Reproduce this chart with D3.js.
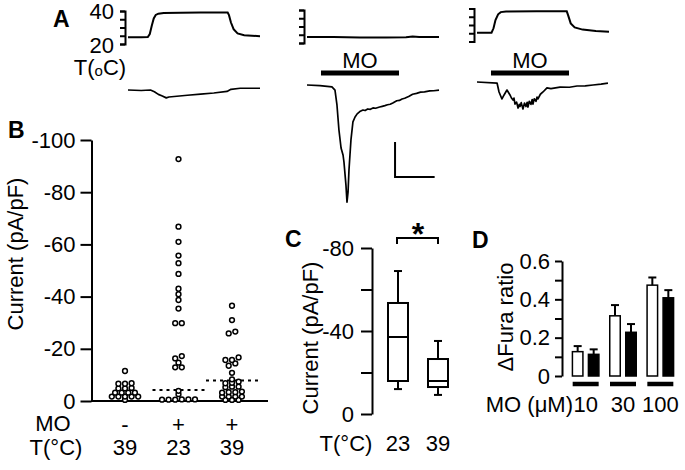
<!DOCTYPE html>
<html><head><meta charset="utf-8">
<script src="https://cdn.jsdelivr.net/npm/d3@7"></script>
<style>
body{margin:0;background:#fff}
text{font-family:"Liberation Sans",Arial,Helvetica,sans-serif;fill:#000}
</style>
</head><body>
<svg id="c" width="685" height="470"></svg>
<script>
// ================= DATA =================
// Panel A: temperature traces (time s, °C)
const tempTicks = [20, 25, 30, 35, 40];
const temp1 = [[0,24.1],[10,24.1],[15,24.2],[16.5,26],[18,31],[19.5,35.5],[21,37.6],[23,38.4],[27,38.8],[40,38.9],[55,39.1],[70,39.1],[75.5,39.1],[76.5,37.5],[78,33],[80,29],[83,26.4],[88,25.3],[100,24.7]];
const temp2 = [[0,23.7],[10,23.7],[20,23.6],[30,23.5],[40,23.4],[60,23.4],[75,23.5],[80,23.9],[85,23.6],[100,23.6]];
const temp3 = [[0,25.3],[11,25.3],[12.5,28],[14,33],[16,36.5],[18,37.8],[22,38.2],[45,38.3],[68,38.3],[69,36],[71,31],[74,28.5],[80,27.2],[90,26.4],[100,25.9]];
// Panel A: membrane current traces (time s, pA)
const current1 = [[0,0],[10,-3],[17,0],[20,-10],[23,-25],[26,-34],[29,-45],[31,-40],[35,-37],[45,-30],[55,-24],[65,-17],[75,-8],[78,4],[85,10],[100,10]];
const current2 = [[0,0],[9.8,-4],[18.9,-11],[21.2,-29],[22.7,-114],[24.2,-257],[25.8,-360],[27.3,-400],[28,-440],[29.5,-571],[30.3,-669],[31.1,-611],[31.8,-486],[33.3,-314],[34.8,-211],[36.4,-183],[38,-165],[40,-152],[42.4,-143],[44,-146],[46,-137],[48,-139],[50,-131],[52,-133],[55,-126],[57,-122],[59,-118],[61,-113],[63,-110],[65,-103],[68,-90],[70,-88],[72,-80],[74,-76],[77,-66],[80,-53],[83,-48],[86,-41],[89,-39],[93,-34],[96,-33],[100,-29]];
const current3 = [[0,0],[15.2,-6],[16.7,-57],[18.9,-97],[20.5,-74],[22.7,-46],[25,-74],[26,-90],[27.3,-103],[28,-92],[28.8,-126],[30,-115],[31.1,-149],[32,-128],[32.6,-140],[33.5,-118],[34.8,-154],[36,-120],[37.1,-140],[38,-116],[38.6,-143],[39.6,-110],[40.9,-128],[41.8,-100],[42.4,-126],[43.4,-96],[44.7,-110],[45.5,-86],[46.2,-97],[48,-70],[50,-57],[53,-34],[56,-38],[62.9,-29],[70,-30],[75.8,-23],[82,-22],[87.9,-17],[94,-12],[99.2,-6]];
const moWindow = [10.6, 69.7];

// Panel B: current density (pA/pF)
const groupsB = ["ctrl39", "mo23", "mo39"];
const moSignB = ["-", "+", "+"];
const tempLabelsB = ["39", "23", "39"];
const currentCtrl39 = [-11.5,-6.6,-6.8,-6.6,-4.8,-5,-4.8,-3.2,-3.2,-3.2,-3.2,-1.7,-1.7,-1.7,-1.7,-1.7,-0.4];
const currentMO23 = [-92.7,-66.8,-61,-55.7,-52.8,-48.7,-43,-40.9,-38.7,-35.4,-29.8,-29.8,-17.2,-16.3,-14.7,-12.9,-12.9,-3.9,-2.6,-0.6,-0.5,-0.6,-0.5,-0.6,-0.5];
const currentMO39 = [-36.5,-31,-26.6,-25.9,-16.7,-15.7,-15.7,-14.4,-13.5,-10.8,-8.3,-7.4,-6.8,-7,-5.5,-5.3,-5.5,-3.4,-3.4,-3.2,-3.6,-1.7,-1.7,-1.7,-1.7,-0.4,-0.4,-0.4];
const medianB = [null, -4.2, -7.9];
const yTicksB = [0, -20, -40, -60, -80, -100];

// Panel C: box plot (pA/pF)
const tempsC = ["23", "39"];
const whiskerLowC = [-12, -9.2];
const q1C = [-15.9, -13];
const medianC = [-37.1, -15.9];
const q3C = [-53.5, -26.5];
const whiskerHighC = [-68.9, -35.2];
const yTicksC = [0, -20, -40, -60, -80];
const yLabelsC = [0, -40, -80];

// Panel D: ΔFura ratio
const dosesD = ["10", "30", "100"];
const furaOpen = [0.127, 0.314, 0.474];
const furaOpenErr = [0.029, 0.056, 0.040];
const furaFilled = [0.113, 0.228, 0.408];
const furaFilledErr = [0.026, 0.043, 0.040];
const yTicksD = [0, 0.1, 0.2, 0.3, 0.4, 0.5, 0.6];
const yLabelsD = [0, 0.2, 0.4, 0.6];

// ================= DRAW =================
const svg = d3.select("#c");
const FS = 22;

function styleAxis(sel, w) {
  sel.selectAll("path,line").attr("stroke", "#000").attr("stroke-width", w);
  sel.selectAll("text").attr("font-size", FS).attr("fill", "#000")
    .attr("font-family", '"Liberation Sans",Arial,sans-serif');
}
function label(x, y, t, opt = {}) {
  const s = svg.append("text").attr("x", x).attr("y", y).text(t)
    .attr("font-size", opt.size || FS).attr("text-anchor", opt.anchor || "middle");
  if (opt.bold) s.attr("font-weight", "bold");
  return s;
}
function vlabel(x, y, t) {
  svg.append("text").attr("transform", `translate(${x},${y}) rotate(-90)`)
    .attr("text-anchor", "middle").attr("font-size", FS).text(t);
}

// ---------- Panel A ----------
const traceX0 = [128, 307, 477], traceW = 132;
const tempTop = [11, 10, 8.5], tempSpan = 33;
const curBase = [90, 85, 82];
const temps = [temp1, temp2, temp3];
const currents = [current1, current2, current3];

temps.forEach((tt, i) => {
  const xs = d3.scaleLinear([0, 100], [traceX0[i], traceX0[i] + traceW]);
  const ts = d3.scaleLinear([20, 40], [tempTop[i] + tempSpan, tempTop[i]]);
  const cs = d3.scaleLinear([0, -200], [curBase[i], curBase[i] + 35]);
  const ax = svg.append("g").attr("transform", `translate(${traceX0[i] - 3},0)`)
    .call(d3.axisLeft(ts).tickValues(tempTicks).tickSize(5).tickSizeOuter(5).tickFormat(""));
  styleAxis(ax, 2);
  svg.append("path").datum(tt).attr("fill", "none").attr("stroke", "#000").attr("stroke-width", 2)
    .attr("d", d3.line().x(d => xs(d[0])).y(d => ts(d[1])));
  svg.append("path").datum(currents[i]).attr("fill", "none").attr("stroke", "#000").attr("stroke-width", 1.7)
    .attr("stroke-linejoin", "round")
    .attr("d", d3.line().x(d => xs(d[0])).y(d => cs(d[1])));
  if (i === 0) {
    label(traceX0[i] - 14, ts(40) + 8, "40", {anchor: "end"});
    label(traceX0[i] - 14, ts(20) + 9, "20", {anchor: "end"});
    const tl = label(100, 75, "T(");
    tl.append("tspan").attr("font-size", 15).attr("dy", 1).text("o");
    tl.append("tspan").attr("dy", -1).text("C)");
  } else {
    svg.append("line").attr("x1", xs(moWindow[0])).attr("x2", xs(moWindow[1]))
      .attr("y1", 73).attr("y2", 73).attr("stroke", "#000").attr("stroke-width", 5);
    label(xs((moWindow[0] + moWindow[1]) / 2), 68, "MO");
  }
  if (i === 1) {
    // scale bar: 30 s, 200 pA
    const sx = xs(66.7), sy = cs(-526);
    svg.append("path").attr("fill", "none").attr("stroke", "#000").attr("stroke-width", 2)
      .attr("d", `M${sx},${cs(-326)}V${sy}H${xs(66.7 + 30)}`);
  }
});
label(53, 27, "A", {anchor: "start", bold: true, size: 23});

// ---------- Panel B ----------
const yB = d3.scaleLinear([0, -100], [401, 140]);
const xB = d3.scalePoint(groupsB, [125, 232]);
const axB = svg.append("g").attr("transform", "translate(91.5,0)")
  .call(d3.axisLeft(yB).tickValues(yTicksB).tickSize(11).tickSizeOuter(0).tickPadding(5).tickFormat(d => String(d)));
styleAxis(axB, 2);
svg.append("line").attr("x1", 91).attr("x2", 268).attr("y1", yB(0)).attr("y2", yB(0))
  .attr("stroke", "#000").attr("stroke-width", 2);

// row-based scatter layout (points with near-equal values share a centered row)
function rows(values, binH, spacing) {
  const pts = values.map(v => ({v, y: yB(v)})).sort((a, b) => b.y - a.y);
  const out = [];
  let row = [];
  const flush = () => {
    row.forEach((p, j) => { p.x = (j - (row.length - 1) / 2) * spacing; out.push(p); });
    row = [];
  };
  pts.forEach(p => {
    if (row.length && row[0].y - p.y > binH) flush();
    row.push(p);
  });
  flush();
  return out;
}
[currentCtrl39, currentMO23, currentMO39].forEach((vals, gi) => {
  const cx = xB(groupsB[gi]);
  if (medianB[gi] !== null) {
    svg.append("line").attr("x1", cx - 26).attr("x2", cx + 26)
      .attr("y1", yB(medianB[gi])).attr("y2", yB(medianB[gi]))
      .attr("stroke", "#000").attr("stroke-width", 2).attr("stroke-dasharray", "3,4");
  }
  svg.append("g").selectAll("circle").data(rows(vals, 3.2, 6.6)).join("circle")
    .attr("cx", d => cx + d.x).attr("cy", d => d.y).attr("r", 2.4)
    .attr("fill", "#fff").attr("stroke", "#000").attr("stroke-width", 1.5);
  label(cx, 432, moSignB[gi]);
  label(cx, 455, tempLabelsB[gi]);
});
label(53, 431, "MO");
label(56, 455, "T(°C)");
vlabel(23, 254, "Current (pA/pF)");
label(8, 138, "B", {anchor: "start", bold: true, size: 23});

// ---------- Panel C ----------
const yC = d3.scaleLinear([0, -80], [414, 248]);
const xC = d3.scalePoint(tempsC, [398, 438]);
const axC = svg.append("g").attr("transform", "translate(372,0)")
  .call(d3.axisLeft(yC).tickValues(yTicksC).tickSize(11).tickSizeOuter(0).tickPadding(7)
    .tickFormat(d => yLabelsC.includes(d) ? String(d) : ""));
styleAxis(axC, 2);
const bw = 20, cw = 8;
tempsC.forEach((t, i) => {
  const cx = xC(t);
  const gC = svg.append("g").attr("fill", "none").attr("stroke", "#000").attr("stroke-width", 2);
  gC.append("rect").attr("x", cx - bw / 2).attr("width", bw)
    .attr("y", yC(q3C[i])).attr("height", yC(q1C[i]) - yC(q3C[i]));
  gC.append("line").attr("x1", cx - bw / 2).attr("x2", cx + bw / 2).attr("y1", yC(medianC[i])).attr("y2", yC(medianC[i]));
  gC.append("line").attr("x1", cx).attr("x2", cx).attr("y1", yC(q3C[i])).attr("y2", yC(whiskerHighC[i]));
  gC.append("line").attr("x1", cx).attr("x2", cx).attr("y1", yC(q1C[i])).attr("y2", yC(whiskerLowC[i]));
  gC.append("line").attr("x1", cx - cw / 2).attr("x2", cx + cw / 2).attr("y1", yC(whiskerHighC[i])).attr("y2", yC(whiskerHighC[i]));
  gC.append("line").attr("x1", cx - cw / 2).attr("x2", cx + cw / 2).attr("y1", yC(whiskerLowC[i])).attr("y2", yC(whiskerLowC[i]));
  label(cx, 451, t);
});
svg.append("path").attr("fill", "none").attr("stroke", "#000").attr("stroke-width", 2)
  .attr("d", `M${xC("23") - 1},244V238H${xC("39")}V244`);
label(418, 245, "*", {size: 32, bold: true});
label(346, 451, "T(°C)");
vlabel(318, 338, "Current (pA/pF)");
label(285, 247, "C", {anchor: "start", bold: true, size: 23});

// ---------- Panel D ----------
const yD = d3.scaleLinear([0, 0.6], [376, 261]);
const xD = d3.scaleBand(dosesD, [567, 679]).paddingInner(0.25).paddingOuter(0.125);
const xSub = d3.scaleBand(["open", "filled"], [0, xD.bandwidth()]).paddingInner(0.25);
const axD = svg.append("g").attr("transform", "translate(562,0)")
  .call(d3.axisLeft(yD).tickValues(yTicksD).tickSize(7).tickSizeOuter(0).tickPadding(5)
    .tickFormat(d => yLabelsD.includes(d) ? String(d) : ""));
styleAxis(axD, 2);
dosesD.forEach((d, i) => {
  const x0 = xD(d);
  [["open", furaOpen[i], furaOpenErr[i]], ["filled", furaFilled[i], furaFilledErr[i]]].forEach(([k, v, e]) => {
    const bx = x0 + xSub(k), w = xSub.bandwidth(), cx = bx + w / 2;
    svg.append("line").attr("x1", cx).attr("x2", cx).attr("y1", yD(v)).attr("y2", yD(v + e))
      .attr("stroke", "#000").attr("stroke-width", 2);
    svg.append("line").attr("x1", cx - 4).attr("x2", cx + 4).attr("y1", yD(v + e)).attr("y2", yD(v + e))
      .attr("stroke", "#000").attr("stroke-width", 2);
    svg.append("rect").attr("x", bx + 0.75).attr("width", w - 1.5)
      .attr("y", yD(v)).attr("height", yD(0) - yD(v))
      .attr("fill", k === "open" ? "#fff" : "#000").attr("stroke", "#000").attr("stroke-width", 1.5);
  });
  svg.append("line").attr("x1", x0 + 1).attr("x2", x0 + xD.bandwidth() - 1).attr("y1", 384).attr("y2", 384)
    .attr("stroke", "#000").attr("stroke-width", 4.5);
  label(x0 + xD.bandwidth() / 2, 412, d);
});
label(573, 412, "MO (μM)", {anchor: "end"});
vlabel(513, 317, "ΔFura ratio");
label(472, 248, "D", {anchor: "start", bold: true, size: 23});
</script>
</body></html>
